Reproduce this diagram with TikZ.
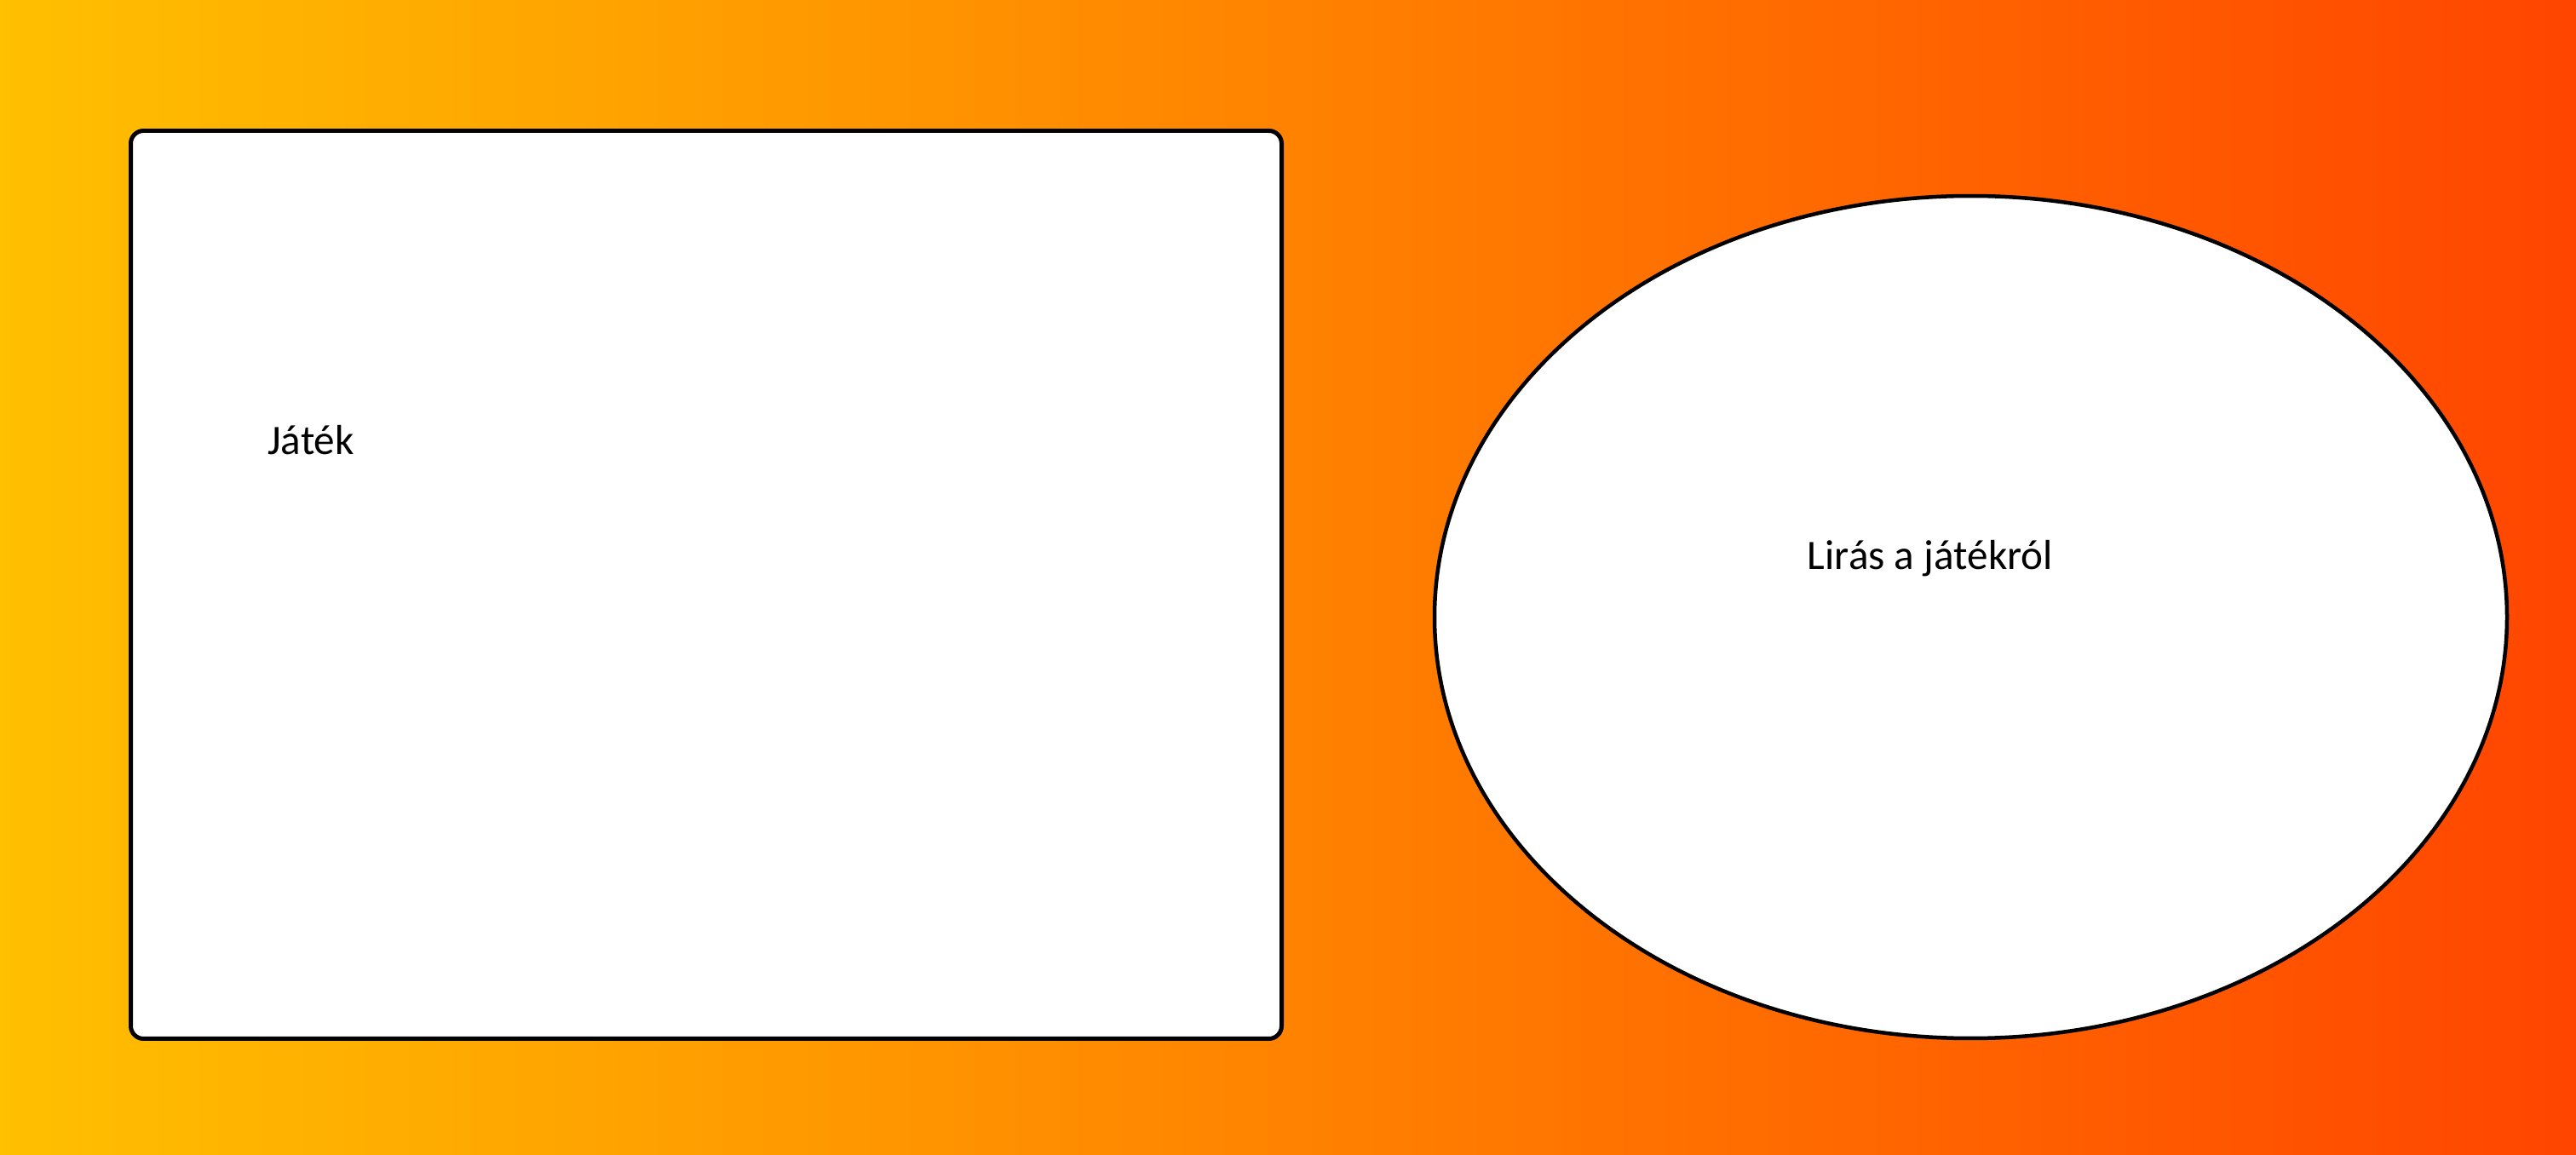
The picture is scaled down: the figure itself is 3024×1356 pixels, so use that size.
\documentclass[tikz,border=0pt]{standalone}
\usepackage{fontspec}
\setmainfont{Carlito}
\usetikzlibrary{shapes.geometric}

\definecolor{bgleft}{RGB}{255,192,0}
\definecolor{bgright}{RGB}{255,69,0}

\begin{document}
\begin{tikzpicture}[x=0.1mm,y=-0.1mm,
  every node/.style={font=\fontsize{14}{17}\selectfont},
  panel/.style={draw,fill=white,line width=0.5mm,rounded corners=1.5mm,inner sep=0pt,
    minimum width=135.1mm,minimum height=106.6mm},
  bubble/.style={draw,fill=white,line width=0.45mm,ellipse,inner sep=0pt,
    minimum width=125.9mm,minimum height=98.9mm}]
\useasboundingbox (0,0) rectangle (3024,1356);
\shade[left color=bgleft,right color=bgright] (0,0) rectangle (3024,1356);
\node[panel] (jatek) at (829,686.5) {};
\node[bubble] (iras) at (2313.5,724.5) {};
\node (jateklbl) at (365,517) {Játék};
\node (iraslbl) at (2266,656) {Lirás a játékról};
\end{tikzpicture}
\end{document}
